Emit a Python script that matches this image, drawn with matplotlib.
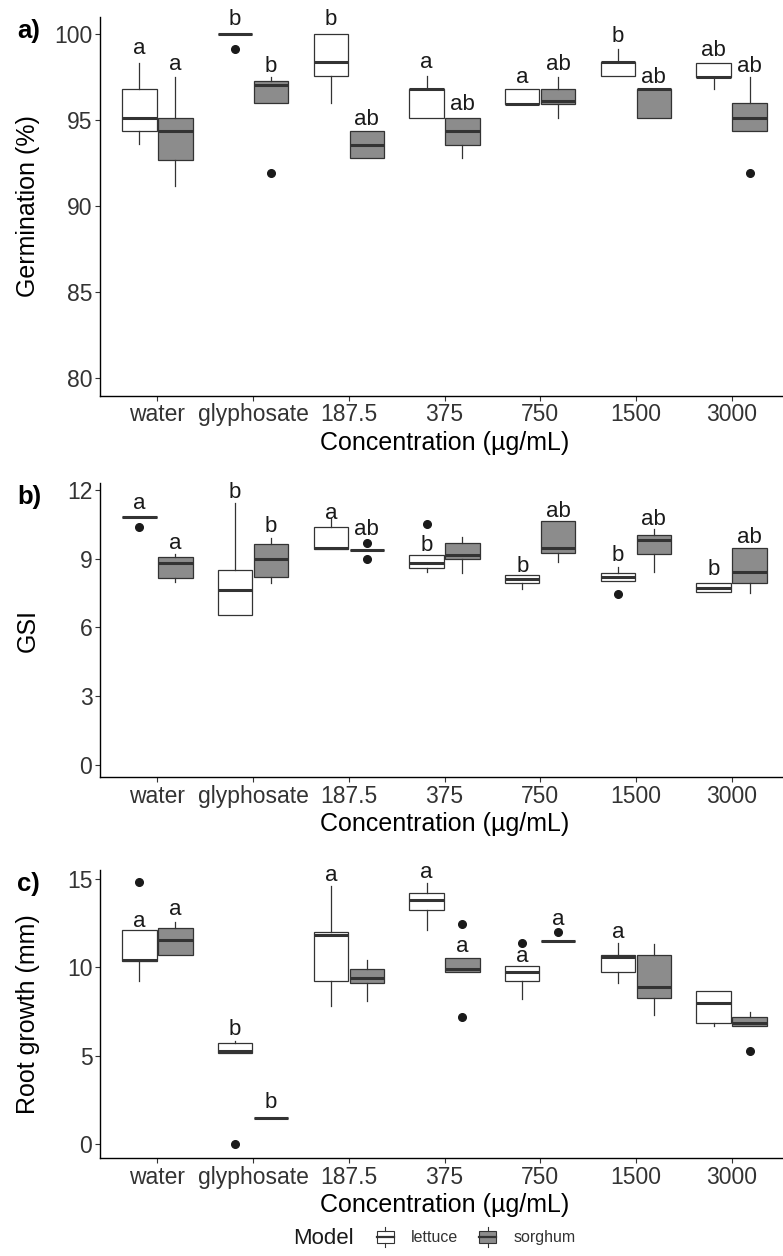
import numpy as np
import matplotlib
matplotlib.use("Agg")
import matplotlib.pyplot as plt
from matplotlib.legend_handler import HandlerBase
from matplotlib.patches import Patch, Rectangle
from matplotlib.lines import Line2D

plt.rcParams['font.family'] = ['Liberation Sans', 'DejaVu Sans']

concentrations = ["water", "glyphosate", "187.5", "375", "750", "1500", "3000"]

# five-number boxes: (whisker low, q1, median, q3, whisker high)
germ_lettuce = [(93.6, 94.37, 95.15, 96.8, 98.35), (100, 100, 100, 100, 100),
                (96.0, 97.57, 98.39, 100, 100), (95.15, 95.15, 96.8, 96.8, 97.57),
                (95.93, 95.93, 95.97, 96.8, 96.8), (97.57, 97.57, 98.4, 98.4, 99.13),
                (96.8, 97.5, 97.5, 98.35, 98.35)]
germ_lettuce_out = [[], [99.16], [], [], [], [], []]
germ_sorghum = [(91.17, 92.72, 94.37, 95.15, 97.5), (95.98, 95.98, 97.05, 97.3, 97.5),
                (92.78, 92.78, 93.56, 94.37, 94.37), (92.82, 93.56, 94.37, 95.15, 95.15),
                (95.15, 95.93, 96.1, 96.8, 97.5), (95.15, 95.15, 96.8, 96.8, 96.8),
                (94.37, 94.37, 95.15, 95.98, 97.5)]
germ_sorghum_out = [[], [91.95], [], [], [], [], [91.95]]
germ_letters_lettuce = ["a", "b", "b", "a", "a", "b", "ab"]
germ_letter_y_lettuce = [99.16, 100.87, 100.87, 98.35, 97.5, 99.84, 99.03]
germ_letters_sorghum = ["a", "b", "ab", "ab", "ab", "ab", "ab"]
germ_letter_y_sorghum = [98.25, 98.15, 95.05, 95.93, 98.25, 97.5, 98.15]

gsi_lettuce = [(10.81, 10.81, 10.81, 10.81, 10.81), (6.54, 6.54, 7.63, 8.5, 11.42),
               (9.41, 9.41, 9.48, 10.4, 10.76), (8.43, 8.6, 8.8, 9.16, 9.16),
               (7.66, 7.93, 8.11, 8.29, 8.29), (8.03, 8.03, 8.21, 8.39, 8.65),
               (7.56, 7.56, 7.7, 7.95, 7.95)]
gsi_lettuce_out = [[10.37], [], [], [10.52], [], [7.46], []]
gsi_sorghum = [(8.0, 8.17, 8.8, 9.09, 9.2), (7.95, 8.19, 8.97, 9.63, 9.89),
               (9.38, 9.38, 9.38, 9.38, 9.38), (8.36, 8.97, 9.16, 9.67, 9.96),
               (8.84, 9.26, 9.45, 10.66, 10.66), (8.4, 9.2, 9.82, 10.03, 10.28),
               (7.52, 7.95, 8.43, 9.45, 9.45)]
gsi_sorghum_out = [[], [], [9.67, 8.99], [], [], [], []]
gsi_letters_lettuce = ["a", "b", "a", "b", "b", "b", "b"]
gsi_letter_y_lettuce = [11.42, 11.88, 10.98, 9.57, 8.65, 9.12, 8.54]
gsi_letters_sorghum = ["a", "b", "ab", "", "ab", "ab", "ab"]
gsi_letter_y_sorghum = [9.67, 10.4, 10.25, np.nan, 11.05, 10.69, 9.93]

root_lettuce = [(9.2, 10.37, 10.42, 12.12, 12.12), (5.15, 5.15, 5.25, 5.72, 5.81),
                (7.79, 9.2, 11.84, 12.02, 14.57), (12.12, 13.25, 13.81, 14.19, 14.76),
                (8.22, 9.25, 9.71, 10.1, 10.1), (9.14, 9.71, 10.61, 10.71, 11.37),
                (6.66, 6.88, 8.01, 8.69, 8.69)]
root_lettuce_out = [[14.81], [0.0], [], [], [11.4], [], []]
root_sorghum = [(10.67, 10.67, 11.55, 12.25, 12.59), (1.51, 1.51, 1.51, 1.51, 1.51),
                (8.07, 9.1, 9.42, 9.9, 10.42), (9.71, 9.71, 9.9, 10.55, 10.55),
                (11.5, 11.5, 11.5, 11.5, 11.5), (7.32, 8.26, 8.88, 10.71, 11.33),
                (6.66, 6.66, 6.85, 7.22, 7.5)]
root_sorghum_out = [[], [], [], [12.46, 7.22], [11.97], [], [5.3]]
root_letters_lettuce = ["a", "b", "a", "a", "a", "a", ""]
root_letter_y_lettuce = [12.59, 6.47, 15.17, 15.36, 10.61, 11.97, np.nan]
root_letters_sorghum = ["a", "b", "", "a", "a", "", ""]
root_letter_y_sorghum = [13.29, 2.34, np.nan, 11.18, 12.72, np.nan, np.nan]

EDGE = "#333333"
GRAY = "#8c8c8c"
W, H = 783, 1256


class BoxKey(HandlerBase):
    # small boxplot glyph for the legend keys
    def create_artists(self, legend, orig_handle, xdescent, ydescent,
                       width, height, fontsize, trans):
        x0, y0 = -xdescent, -ydescent
        rect = Rectangle((x0, y0 + 0.2 * height), width, 0.6 * height,
                         facecolor=orig_handle.get_facecolor(), edgecolor=EDGE,
                         linewidth=0.8, transform=trans)
        med = Line2D([x0, x0 + width], [y0 + 0.5 * height] * 2, color=EDGE,
                     linewidth=1.6, transform=trans)
        top = Line2D([x0 + width / 2] * 2, [y0 + 0.8 * height, y0 + height],
                     color=EDGE, linewidth=0.8, transform=trans)
        bot = Line2D([x0 + width / 2] * 2, [y0, y0 + 0.2 * height],
                     color=EDGE, linewidth=0.8, transform=trans)
        return [rect, med, top, bot]


def to_stats(boxes, outliers):
    return [dict(whislo=lo, q1=q1, med=med, q3=q3, whishi=hi, fliers=out)
            for (lo, q1, med, q3, hi), out in zip(boxes, outliers)]


def draw_panel(ax, series, ylim, yticks, ylabel, tag):
    x = np.arange(1, len(concentrations) + 1)
    for boxes, outs, letters, letter_y, offset, fill in series:
        ax.bxp(to_stats(boxes, outs), positions=x + offset, widths=0.36,
               patch_artist=True, showcaps=False, manage_ticks=False,
               boxprops=dict(facecolor=fill, edgecolor=EDGE, linewidth=0.9),
               medianprops=dict(color=EDGE, linewidth=2.2, solid_capstyle="butt"),
               whiskerprops=dict(color=EDGE, linewidth=0.9),
               flierprops=dict(marker="o", markerfacecolor="#1a1a1a",
                               markeredgecolor="#1a1a1a", markersize=5.5))
        for xi, lab, yv in zip(x + offset, letters, letter_y):
            if lab:
                ax.text(xi, yv, lab, ha="center", va="center", fontsize=16,
                        color="#1a1a1a")

    ax.set_xlim(0.4, 7.6)
    ax.set_xticks(x, concentrations)
    ax.set_ylim(*ylim)
    ax.set_yticks(yticks)
    for side in ["top", "right"]:
        ax.spines[side].set_visible(False)
    for side in ["left", "bottom"]:
        ax.spines[side].set_linewidth(1.0)
    ax.tick_params(length=3.5, width=0.8, color=EDGE, labelsize=16.5,
                   labelcolor="#333333", pad=2)
    ax.set_xlabel("Concentration (µg/mL)", fontsize=18, labelpad=3)
    ax.set_ylabel(ylabel, fontsize=18, va="center")
    ax.yaxis.set_label_coords(-0.105, 0.5)
    ax.annotate(tag, xy=(0, 1), xycoords="axes fraction",
                xytext=(-83 * 0.72, -14 * 0.72), textcoords="offset points",
                fontsize=18.5, fontweight="bold", ha="left", va="center")


def add_axes(fig, top_px, bottom_px, left_px=100, right_px=789):
    return fig.add_axes([left_px / W, 1 - bottom_px / H,
                         (right_px - left_px) / W, (bottom_px - top_px) / H])


fig = plt.figure(figsize=(W / 100, H / 100), dpi=100)

ax_a = add_axes(fig, 17, 395.7)
draw_panel(ax_a,
           [(germ_lettuce, germ_lettuce_out, germ_letters_lettuce, germ_letter_y_lettuce, -0.1875, "white"),
            (germ_sorghum, germ_sorghum_out, germ_letters_sorghum, germ_letter_y_sorghum, 0.1875, GRAY)],
           (79.0, 101.0), [80, 85, 90, 95, 100], "Germination (%)", "a)")

ax_b = add_axes(fig, 483, 777.3)
draw_panel(ax_b,
           [(gsi_lettuce, gsi_lettuce_out, gsi_letters_lettuce, gsi_letter_y_lettuce, -0.1875, "white"),
            (gsi_sorghum, gsi_sorghum_out, gsi_letters_sorghum, gsi_letter_y_sorghum, 0.1875, GRAY)],
           (-0.54, 12.3), [0, 3, 6, 9, 12], "GSI", "b)")

ax_c = add_axes(fig, 870, 1158.3)
draw_panel(ax_c,
           [(root_lettuce, root_lettuce_out, root_letters_lettuce, root_letter_y_lettuce, -0.1875, "white"),
            (root_sorghum, root_sorghum_out, root_letters_sorghum, root_letter_y_sorghum, 0.1875, GRAY)],
           (-0.79, 15.5), [0, 5, 10, 15], "Root growth (mm)", "c)")

fig.text(293 / W, 1 - 1239 / H, "Model", fontsize=16, ha="left", va="center",
         color="#1a1a1a")
handles = [Patch(facecolor="white", edgecolor=EDGE), Patch(facecolor=GRAY, edgecolor=EDGE)]
fig.legend(handles, ["lettuce", "sorghum"], handler_map={Patch: BoxKey()},
           loc="center left", bbox_to_anchor=(377 / W, 1 - 1237 / H), ncol=2,
           frameon=False, fontsize=11.5, labelcolor="#333333",
           handlelength=1.05, handleheight=1.6, handletextpad=1.1,
           columnspacing=1.3, borderpad=0, borderaxespad=0)

fig.savefig("out.png", dpi=100)
